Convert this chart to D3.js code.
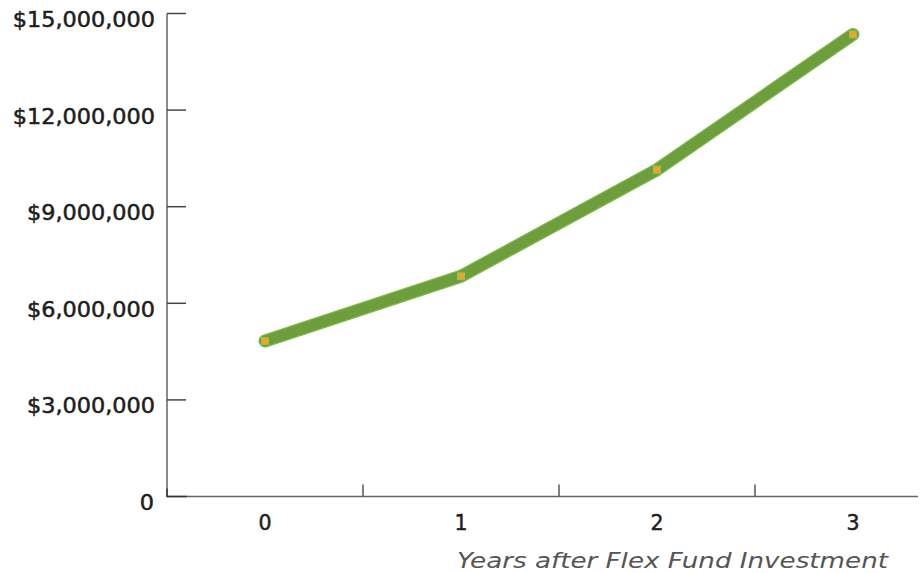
<!DOCTYPE html>
<html>
<head>
<meta charset="utf-8">
<script src="https://cdn.jsdelivr.net/npm/d3@7"></script>
<style>
  body { margin: 0; background: #fff; }
  text { font-family: "DejaVu Sans", "Noto Sans", sans-serif; }
</style>
</head>
<body>
<div id="chart"></div>
<script>
// data
const years = ['0', '1', '2', '3'];
const values = [4830000, 6840000, 10150000, 14350000];
const yTicks = [0, 3000000, 6000000, 9000000, 12000000, 15000000];
const xTitle = 'Years after Flex Fund Investment';

let visConfig = {
  width: 922,
  height: 573,
  padding: { left: 167, top: 13, right: 4, bottom: 77 }
};

let svg = d3.select('#chart')
  .append('svg')
  .attr('width', visConfig.width)
  .attr('height', visConfig.height);

let xscale = d3.scaleBand()
  .domain(years)
  .range([visConfig.padding.left, visConfig.padding.left + 196 * years.length]);

let yscale = d3.scaleLinear()
  .domain([0, 15000000])
  .range([visConfig.height - visConfig.padding.bottom + 0.5, visConfig.padding.top + 0.5]);

let x0 = visConfig.padding.left;
let xEnd = visConfig.width - visConfig.padding.right;
let yBase = yscale(0);

// axes lines
svg.append('line')
  .attr('x1', x0).attr('x2', x0)
  .attr('y1', yscale(15000000)).attr('y2', yBase)
  .attr('stroke', '#666').attr('stroke-width', 1.5);
svg.append('line')
  .attr('x1', x0).attr('x2', xEnd)
  .attr('y1', yBase).attr('y2', yBase)
  .attr('stroke', '#666').attr('stroke-width', 1.5);
// darker corner stub
svg.append('path')
  .attr('d', `M${x0},${yBase - 8}V${yBase}H${x0 + 20}`)
  .attr('fill', 'none')
  .attr('stroke', '#333').attr('stroke-width', 1.5);

// y ticks (pointing inward)
svg.selectAll('.ytick')
  .data(yTicks.filter(d => d > 0))
  .enter()
  .append('line')
  .attr('class', 'ytick')
  .attr('x1', x0).attr('x2', x0 + 19)
  .attr('y1', d => yscale(d)).attr('y2', d => yscale(d))
  .attr('stroke', '#444').attr('stroke-width', 1.5);

let fmt = d3.format('$,');
let ylabels = svg.selectAll('.ylabel')
  .data(yTicks)
  .enter()
  .append('text')
  .attr('class', 'ylabel')
  .attr('x', d => d === 0 ? 154 : 155)
  .attr('y', d => yscale(d) + 13.5)
  .attr('text-anchor', 'end')
  .attr('font-size', 20.5)
  .attr('fill', '#1e1e1e')
  .attr('stroke', '#1e1e1e')
  .attr('stroke-width', 0.5)
  .text(d => d === 0 ? '0' : fmt(d));

// widen the labels a little, the original face is broader
ylabels.each(function () {
  let w = this.getComputedTextLength();
  d3.select(this)
    .attr('textLength', w * 1.09)
    .attr('lengthAdjust', 'spacingAndGlyphs');
});

// x ticks between bands, pointing up
svg.selectAll('.xtick')
  .data(years.slice(1))
  .enter()
  .append('line')
  .attr('class', 'xtick')
  .attr('x1', d => xscale(d)).attr('x2', d => xscale(d))
  .attr('y1', yBase - 12).attr('y2', yBase)
  .attr('stroke', '#555').attr('stroke-width', 1.5);

svg.selectAll('.xlabel')
  .data(years)
  .enter()
  .append('text')
  .attr('class', 'xlabel')
  .attr('x', d => xscale(d) + xscale.bandwidth() / 2)
  .attr('y', 530)
  .attr('text-anchor', 'middle')
  .attr('font-size', 20.5)
  .attr('fill', '#1e1e1e')
  .attr('stroke', '#1e1e1e')
  .attr('stroke-width', 0.5)
  .text(d => d);

svg.append('text')
  .attr('x', 457)
  .attr('y', 568)
  .attr('font-size', 21)
  .attr('font-style', 'italic')
  .attr('font-weight', 300)
  .attr('fill', '#555')
  .attr('textLength', 431)
  .attr('lengthAdjust', 'spacingAndGlyphs')
  .text(xTitle);

// the line
let pts = years.map((y, i) => [xscale(y) + xscale.bandwidth() / 2, yscale(values[i])]);
svg.append('path')
  .datum(pts)
  .attr('d', d3.line())
  .attr('fill', 'none')
  .attr('stroke', '#7ab94a')
  .attr('stroke-width', 13)
  .attr('stroke-linecap', 'round')
  .attr('stroke-linejoin', 'round');
svg.append('path')
  .datum(pts)
  .attr('d', d3.line())
  .attr('fill', 'none')
  .attr('stroke', '#6e9d3b')
  .attr('stroke-width', 10.5)
  .attr('stroke-linecap', 'round')
  .attr('stroke-linejoin', 'round');

// markers
svg.selectAll('.marker')
  .data(pts)
  .enter()
  .append('rect')
  .attr('class', 'marker')
  .attr('x', d => d[0] - 3.5)
  .attr('y', d => d[1] - 3.5)
  .attr('width', 7).attr('height', 7)
  .attr('fill', '#f0a22a')
  .attr('stroke', '#8cc45a')
  .attr('stroke-width', 1);
</script>
</body>
</html>
